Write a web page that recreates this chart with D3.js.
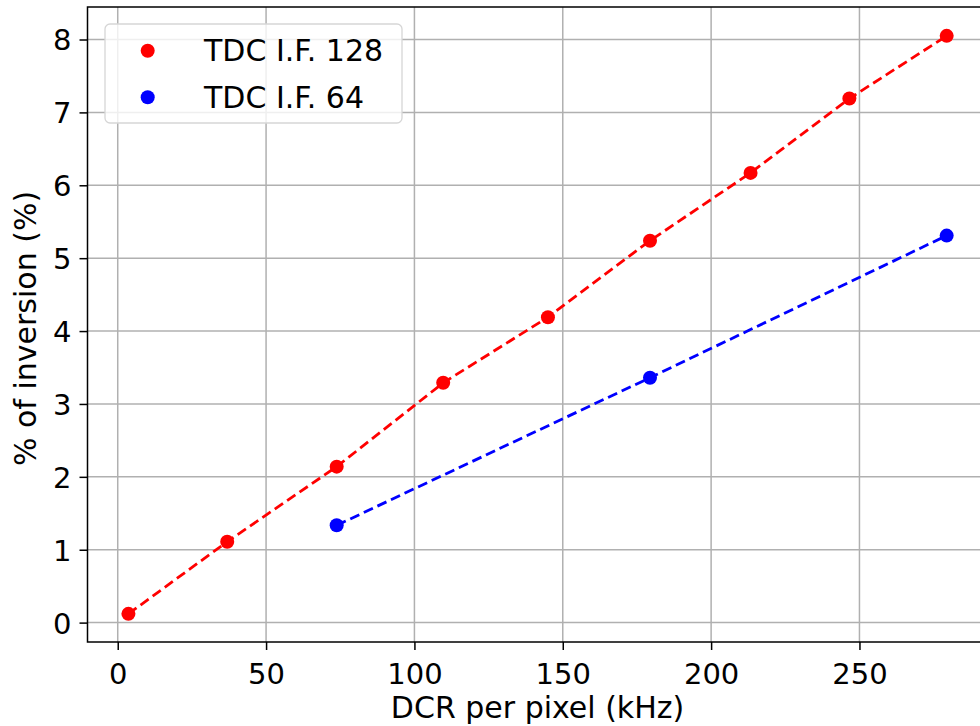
<!DOCTYPE html>
<html>
<head>
<meta charset="utf-8">
<script src="https://cdn.jsdelivr.net/npm/d3@7"></script>
<style>
  body { margin: 0; background: #fff; }
  text { font-family: "DejaVu Sans", sans-serif; fill: #000; }
</style>
</head>
<body>
<svg id="chart" width="980" height="726"></svg>
<script>
// data
var dcr128 = [3.6, 36.9, 73.8, 109.7, 145, 179.4, 213.3, 246.6, 279.4];
var inv128 = [0.12, 1.11, 2.14, 3.29, 4.19, 5.24, 6.17, 7.19, 8.05];
var dcr64 = [73.8, 179.4, 279.4];
var inv64 = [1.335, 3.36, 5.31];
var seriesNames = ['TDC I.F. 128', 'TDC I.F. 64'];
var seriesColors = ['#ff0000', '#0000ff'];
var xTicks = [0, 50, 100, 150, 200, 250];
var yTicks = [0, 1, 2, 3, 4, 5, 6, 7, 8];

var svg = d3.select('#chart');
var pLeft = 87.5, pRight = 987.6, pTop = 7, pBottom = 642;

var x = d3.scaleLinear().domain([-10.19, 293.19]).range([pLeft, pRight]);
var y = d3.scaleLinear().domain([-0.266, 8.446]).range([pBottom, pTop]);

// grid
svg.append('g').selectAll('line').data(xTicks).enter().append('line')
  .attr('x1', function(d) { return x(d); }).attr('x2', function(d) { return x(d); })
  .attr('y1', pTop).attr('y2', pBottom)
  .attr('stroke', '#b0b0b0').attr('stroke-width', 1.5);
svg.append('g').selectAll('line').data(yTicks).enter().append('line')
  .attr('y1', function(d) { return y(d); }).attr('y2', function(d) { return y(d); })
  .attr('x1', pLeft).attr('x2', pRight)
  .attr('stroke', '#b0b0b0').attr('stroke-width', 1.5);

// axes
var xAxis = svg.append('g').attr('transform', 'translate(0,' + pBottom + ')')
  .call(d3.axisBottom(x).tickValues(xTicks).tickSize(8).tickPadding(8).tickSizeOuter(0));
var yAxis = svg.append('g').attr('transform', 'translate(' + pLeft + ',0)')
  .call(d3.axisLeft(y).tickValues(yTicks).tickSize(8).tickPadding(8).tickSizeOuter(0));
[xAxis, yAxis].forEach(function(a) {
  a.select('.domain').remove();
  a.selectAll('line').attr('stroke', '#000').attr('stroke-width', 1.5);
  a.selectAll('text').style('font-size', '29px').attr('font-family', 'DejaVu Sans').attr('fill', '#000');
});
xAxis.selectAll('text').attr('dy', '0.9em');
yAxis.selectAll('text').attr('dy', '0.36em');

// frame
svg.append('rect').attr('x', pLeft).attr('y', pTop)
  .attr('width', pRight - pLeft).attr('height', pBottom - pTop)
  .attr('fill', 'none').attr('stroke', '#000').attr('stroke-width', 1.5);

// axis labels
svg.append('text').attr('x', (pLeft + pRight) / 2).attr('y', 718)
  .attr('text-anchor', 'middle').style('font-size', '30px').text('DCR per pixel (kHz)');
svg.append('text').attr('transform', 'translate(36,' + ((pTop + pBottom) / 2 + 4) + ') rotate(-90)')
  .attr('text-anchor', 'middle').style('font-size', '30px').text('% of inversion (%)');

// series
var series = [
  {xs: dcr128, ys: inv128, name: seriesNames[0], color: seriesColors[0]},
  {xs: dcr64, ys: inv64, name: seriesNames[1], color: seriesColors[1]}
];
var line = d3.line().x(function(d) { return x(d[0]); }).y(function(d) { return y(d[1]); });

series.forEach(function(s) {
  var pts = s.xs.map(function(v, i) { return [v, s.ys[i]]; });
  svg.append('path').datum(pts).attr('d', line)
    .attr('fill', 'none').attr('stroke', s.color).attr('stroke-width', 2.8)
    .attr('stroke-dasharray', '10,5');
  svg.append('g').selectAll('circle').data(pts).enter().append('circle')
    .attr('cx', function(d) { return x(d[0]); })
    .attr('cy', function(d) { return y(d[1]); })
    .attr('r', 7).attr('fill', s.color);
});

// legend
var lg = svg.append('g');
lg.append('rect').attr('x', 105).attr('y', 24).attr('width', 297).attr('height', 99)
  .attr('rx', 5).attr('fill', 'rgba(255,255,255,0.8)')
  .attr('stroke', '#d6d6d6').attr('stroke-width', 1.3);
series.forEach(function(s, i) {
  var cy = 50.7 + i * 46.6;
  lg.append('circle').attr('cx', 147.7).attr('cy', cy).attr('r', 7).attr('fill', s.color);
  lg.append('text').attr('x', 204).attr('y', cy + 10.5).style('font-size', '30px').text(s.name);
});
</script>
</body>
</html>
